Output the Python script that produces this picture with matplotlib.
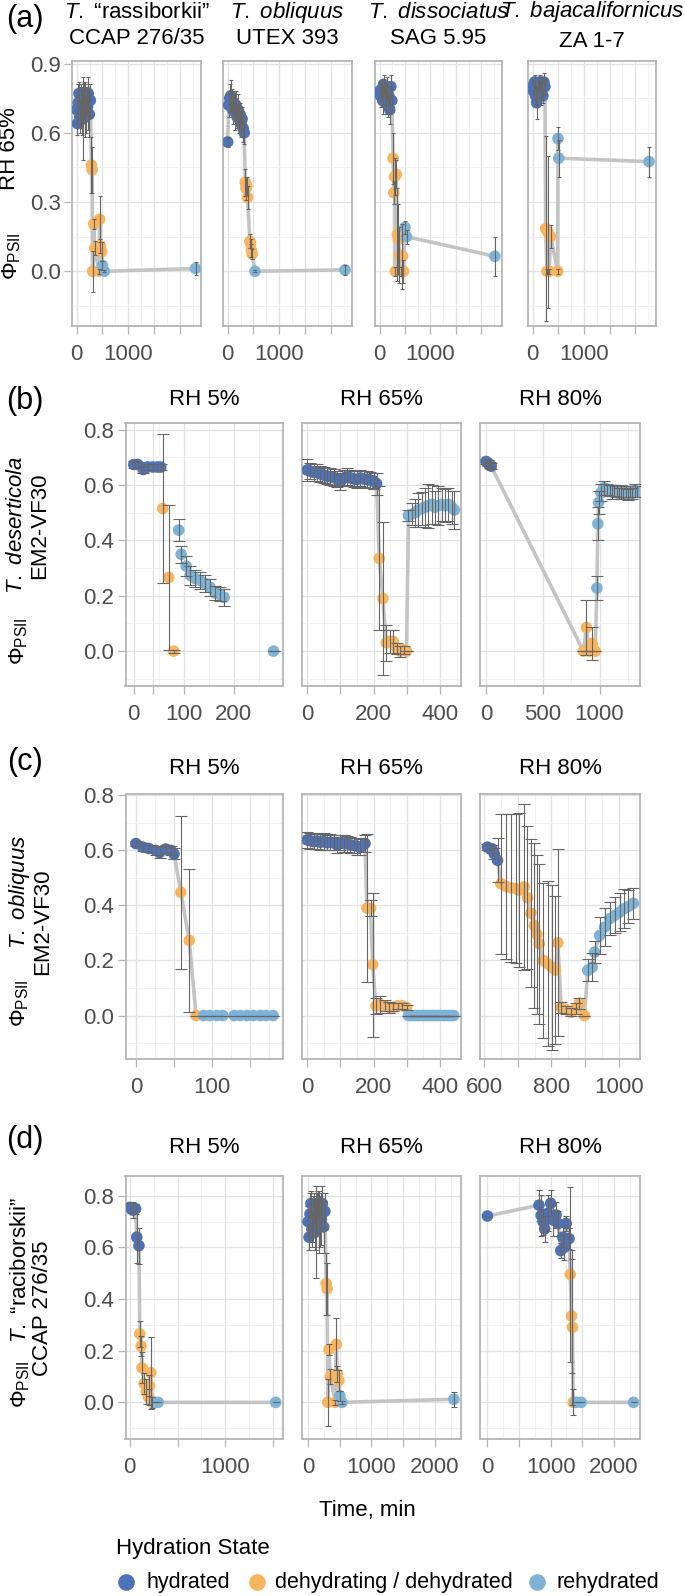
import numpy as np
import matplotlib
matplotlib.use("Agg")
import matplotlib.pyplot as plt
from matplotlib.lines import Line2D

plt.rcParams['font.family'] = ['Liberation Sans', 'DejaVu Sans']
plt.rcParams['mathtext.fontset'] = 'custom'
plt.rcParams['mathtext.rm'] = 'Liberation Sans'
plt.rcParams['mathtext.it'] = 'Liberation Sans:italic'
plt.rcParams['mathtext.bf'] = 'Liberation Sans:bold'

# ---------------------------------------------------------------- data
STATE_CODES = ['h', 'd', 'r']
STATE_LABELS = ['hydrated', 'dehydrating / dehydrated', 'rehydrated']
STATE_COLORS = ['#4E72B8', '#F9B45F', '#7EB3D7']

# (a) / (d) RH 65%: T. "rassiborkii" CCAP 276/35
rasi65_t = [0, 15, 30, 45, 60, 75, 90, 105, 120, 135, 150, 165, 180, 195, 210, 225, 245, 265,
            285, 300, 310, 330, 350, 430, 445, 460, 485,
            500, 535, 2300]
rasi65_v = [0.70, 0.64, 0.73, 0.77, 0.67, 0.71, 0.75, 0.69, 0.66, 0.73, 0.77, 0.70, 0.68, 0.74, 0.71, 0.77, 0.68, 0.74,
            0.46, 0.44, 0.0, 0.205, 0.10, 0.0, 0.225, 0.11, 0.085,
            0.025, 0.0, 0.012]
rasi65_sd = [0.06, 0.05, 0.08, 0.05, 0.07, 0.09, 0.06, 0.10, 0.18, 0.08, 0.05, 0.12, 0.08, 0.06, 0.10, 0.07, 0.10, 0.07,
             0.12, 0.10, 0.09, 0.02, 0.03, 0.01, 0.10, 0.03, 0.04,
             0.02, 0.005, 0.03]
rasi65_s = ['h'] * 18 + ['d'] * 9 + ['r'] * 3

# (a) T. obliquus UTEX 393
oblu_t = [0, 20, 40, 60, 80, 100, 120, 140, 160, 180, 200, 220, 240, 260, 280, 300, 320,
          340, 355, 370, 385, 430, 445, 460, 475,
          530, 2270]
oblu_v = [0.56, 0.72, 0.75, 0.76, 0.74, 0.70, 0.73, 0.69, 0.72, 0.67, 0.70, 0.66, 0.68, 0.64, 0.66, 0.62, 0.60,
          0.385, 0.36, 0.37, 0.32, 0.13, 0.12, 0.09, 0.075,
          0.0, 0.006]
oblu_sd = [0.02, 0.05, 0.06, 0.07, 0.05, 0.06, 0.05, 0.08, 0.06, 0.05, 0.07, 0.06, 0.05, 0.06, 0.05, 0.06, 0.05,
           0.06, 0.05, 0.04, 0.05, 0.03, 0.02, 0.03, 0.02,
           0.005, 0.02]
oblu_s = ['h'] * 17 + ['d'] * 8 + ['r'] * 2

# (a) T. dissociatus SAG 5.95
diss_t = [0, 20, 40, 60, 80, 100, 120, 140, 160, 180, 200, 220, 240,
          265, 280, 295, 310, 330, 350, 370, 390, 420, 450, 470,
          500, 530, 2265]
diss_v = [0.78, 0.76, 0.79, 0.74, 0.81, 0.77, 0.75, 0.79, 0.72, 0.76, 0.70, 0.80, 0.74,
          0.49, 0.34, 0.41, 0.0, 0.42, 0.16, 0.14, 0.07, 0.0, 0.065, 0.0,
          0.19, 0.15, 0.065]
diss_sd = [0.04, 0.05, 0.04, 0.06, 0.04, 0.05, 0.07, 0.05, 0.05, 0.04, 0.06, 0.05, 0.05,
           0.11, 0.05, 0.08, 0.02, 0.06, 0.20, 0.15, 0.12, 0.02, 0.14, 0.05,
           0.03, 0.03, 0.085]
diss_s = ['h'] * 13 + ['d'] * 11 + ['r'] * 3

# (a) T. bajacalifornicus ZA 1-7
baja_t = [0, 20, 40, 60, 80, 100, 120, 140, 160, 180, 200, 220, 240,
          255, 280, 300, 325, 350, 490,
          495, 510, 2270]
baja_v = [0.80, 0.78, 0.82, 0.76, 0.73, 0.81, 0.79, 0.82, 0.77, 0.80, 0.76, 0.82, 0.80,
          0.185, 0.0, 0.17, 0.0, 0.15, 0.0,
          0.575, 0.49, 0.475]
baja_sd = [0.03, 0.04, 0.03, 0.04, 0.07, 0.03, 0.04, 0.03, 0.05, 0.04, 0.03, 0.04, 0.03,
           0.40, 0.01, 0.33, 0.01, 0.05, 0.01,
           0.05, 0.08, 0.065]
baja_s = ['h'] * 13 + ['d'] * 6 + ['r'] * 3

# (b) T. deserticola EM2-VF30
des5_t = [0, 8, 19, 28, 38, 47, 54,
          58, 70, 80,
          90, 95, 105, 113, 123, 133, 143, 153, 163, 172, 181, 280]
des5_v = [0.674, 0.674, 0.656, 0.665, 0.665, 0.665, 0.665,
          0.515, 0.266, 0.0,
          0.437, 0.35, 0.307, 0.274, 0.262, 0.256, 0.244, 0.23, 0.21, 0.205, 0.194, 0.0]
des5_sd = [0.012, 0.01, 0.012, 0.01, 0.01, 0.01, 0.01,
           0.268, 0.261, 0.005,
           0.04, 0.03, 0.037, 0.035, 0.03, 0.03, 0.03, 0.03, 0.025, 0.025, 0.03, 0.0]
des5_s = ['h'] * 7 + ['d'] * 3 + ['r'] * 12

des65_t = [0, 10, 20, 30, 40, 50, 60, 70, 80, 90, 100, 110, 120, 130, 140, 150, 160, 170, 180, 190, 200, 209,
           217, 228, 238, 249, 259, 270, 280, 291, 299,
           305, 315, 325, 335, 345, 355, 365, 375, 385, 395, 405, 415, 425, 435, 443]
des65_v = [0.654, 0.65, 0.646, 0.645, 0.64, 0.636, 0.632, 0.63, 0.627, 0.622, 0.612, 0.625, 0.63, 0.626, 0.622,
           0.62, 0.625, 0.622, 0.62, 0.618, 0.615, 0.605,
           0.335, 0.19, 0.03, 0.035, 0.035, 0.01, 0.0, 0.005, 0.0,
           0.49, 0.495, 0.50, 0.51, 0.515, 0.52, 0.525, 0.53, 0.52, 0.525, 0.53, 0.525, 0.53, 0.52, 0.51]
des65_sd = [0.04, 0.03, 0.03, 0.03, 0.03, 0.03, 0.03, 0.03, 0.03, 0.03, 0.03, 0.03, 0.03, 0.03, 0.03,
            0.03, 0.03, 0.03, 0.03, 0.03, 0.03, 0.04,
            0.26, 0.277, 0.065, 0.04, 0.04, 0.02, 0.02, 0.015, 0.0,
            0.02, 0.04, 0.05, 0.06, 0.06, 0.07, 0.08, 0.07, 0.06, 0.07, 0.06, 0.06, 0.06, 0.06, 0.07]
des65_s = ['h'] * 22 + ['d'] * 9 + ['r'] * 15

des80_t = [0, 15, 30, 45,
           858, 885, 908, 935, 962,
           977, 985, 992, 1012, 1038, 1065, 1090, 1110, 1130, 1150, 1170, 1190, 1210, 1230, 1250, 1270,
           1290, 1310, 1330]
des80_v = [0.685, 0.68, 0.672, 0.668,
           0.0, 0.085, 0.0, 0.028, 0.0,
           0.228, 0.46, 0.537, 0.572, 0.59, 0.585, 0.58, 0.575, 0.58, 0.575, 0.57, 0.575, 0.57, 0.575,
           0.565, 0.575, 0.57, 0.58, 0.575]
des80_sd = [0.01, 0.01, 0.01, 0.01,
            0.0, 0.10, 0.0, 0.06, 0.0,
            0.045, 0.06, 0.04, 0.03, 0.025, 0.02, 0.02, 0.025, 0.02, 0.02, 0.02, 0.025, 0.02, 0.02,
            0.02, 0.02, 0.02, 0.025, 0.02]
des80_s = ['h'] * 4 + ['d'] * 5 + ['r'] * 19

# (c) T. obliquus EM2-VF30
ob5_t = [0, 9, 17, 26, 31, 39, 46, 50,
         59, 70, 79,
         89, 97, 106, 114, 129, 137, 146, 154, 163, 171, 180]
ob5_v = [0.625, 0.612, 0.607, 0.60, 0.592, 0.605, 0.60, 0.587,
         0.448, 0.273, 0.0,
         0, 0, 0, 0, 0, 0, 0, 0, 0, 0, 0]
ob5_sd = [0.01, 0.015, 0.012, 0.015, 0.02, 0.015, 0.015, 0.02,
          0.278, 0.26, 0.0,
          0, 0, 0, 0, 0, 0, 0, 0, 0, 0, 0]
ob5_s = ['h'] * 8 + ['d'] * 3 + ['r'] * 11

ob65_t = [0, 10, 20, 30, 40, 50, 60, 70, 80, 90, 100, 110, 120, 130, 140, 150, 160, 174,
          180, 191, 197, 207, 220, 233, 246, 259, 272, 286, 299,
          305, 313, 321, 329, 337, 345, 353, 361, 369, 377, 385, 393, 401, 409, 417, 425, 433, 441]
ob65_v = [0.638, 0.635, 0.632, 0.634, 0.63, 0.632, 0.628, 0.63, 0.628, 0.62, 0.628, 0.625, 0.624, 0.62,
          0.618, 0.615, 0.612, 0.625,
          0.39, 0.39, 0.185, 0.035, 0.04, 0.035, 0.03, 0.03, 0.035, 0.035, 0.03,
          0, 0, 0, 0, 0, 0, 0, 0, 0, 0, 0, 0, 0, 0, 0, 0, 0, 0]
ob65_sd = [0.028, 0.03, 0.028, 0.03, 0.028, 0.03, 0.028, 0.03, 0.028, 0.03, 0.028, 0.03, 0.028, 0.03,
           0.028, 0.03, 0.028, 0.03,
           0.27, 0.03, 0.262, 0.03, 0.03, 0.02, 0.02, 0.015, 0.012, 0.012, 0.01,
           0, 0, 0, 0, 0, 0, 0, 0, 0, 0, 0, 0, 0, 0, 0, 0, 0, 0]
ob65_s = ['h'] * 18 + ['d'] * 11 + ['r'] * 18

ob80_t = [610, 623, 630, 640,
          650, 665, 680, 694, 704, 719, 729, 739, 749, 757, 764, 776, 789, 802, 812, 819, 829, 844, 859, 872,
          883, 898,
          908, 921, 928, 943, 958, 973, 988, 1003, 1015, 1028, 1043]
ob80_v = [0.612, 0.606, 0.588, 0.564,
          0.479, 0.469, 0.464, 0.461, 0.455, 0.467, 0.428, 0.372, 0.327, 0.295, 0.261, 0.20, 0.188, 0.175,
          0.165, 0.264, 0.03, 0.021, 0.012, 0.024, 0.045, 0.0,
          0.164, 0.176, 0.23, 0.291, 0.321, 0.352, 0.364, 0.376, 0.388, 0.396, 0.408]
ob80_sd = [0.01, 0.015, 0.02, 0.08,
           0.254, 0.264, 0.27, 0.27, 0.28, 0.30, 0.26, 0.27, 0.30, 0.29, 0.29, 0.28, 0.30, 0.30,
           0.27, 0.34, 0.02, 0.015, 0.015, 0.02, 0.02, 0.0,
           0.04, 0.05, 0.04, 0.067, 0.07, 0.06, 0.065, 0.07, 0.07, 0.06, 0.056]
ob80_s = ['h'] * 4 + ['d'] * 22 + ['r'] * 11

# (d) T. "raciborskii" CCAP 276/35
rasi5_t = [0, 30, 60, 73, 96,
           105, 119, 128, 151, 174, 197, 206, 220, 234,
           266, 298, 1528]
rasi5_v = [0.755, 0.745, 0.75, 0.64, 0.607,
           0.265, 0.218, 0.134, 0.072, 0.042, 0.02, 0.065, 0.115, 0.0,
           0.0, 0.0, 0.0]
rasi5_sd = [0.02, 0.03, 0.02, 0.10, 0.07,
            0.05, 0.04, 0.06, 0.04, 0.05, 0.03, 0.04, 0.14, 0.02,
            0.0, 0.0, 0.0]
rasi5_s = ['h'] * 5 + ['d'] * 9 + ['r'] * 3

rasi80_t = [0, 815, 850, 880, 905, 950, 1000, 1040, 1085, 1120, 1160, 1190, 1215, 1245, 1290,
            1310, 1330, 1345, 1355,
            1400, 1483, 2310]
rasi80_v = [0.722, 0.764, 0.724, 0.70, 0.672, 0.732, 0.771, 0.706, 0.726, 0.693, 0.588, 0.64, 0.601, 0.693, 0.634,
            0.496, 0.335, 0.291, 0.0,
            0.0, 0.0, 0.0]
rasi80_sd = [0.0, 0.06, 0.08, 0.05, 0.05, 0.07, 0.05, 0.06, 0.05, 0.05, 0.03, 0.04, 0.05, 0.03, 0.04,
             0.34, 0.22, 0.30, 0.05,
             0.0, 0.0, 0.0]
rasi80_s = ['h'] * 15 + ['d'] * 4 + ['r'] * 3

# ---------------------------------------------------------------- figure
W, H = 685, 1596
fig = plt.figure(figsize=(W / 100, H / 100), dpi=100)
fig.patch.set_facecolor('white')

LINE_COLOR = '#C4C4C4'
ERR_COLOR = '#666666'
BORDER = '#B5B5B5'
TICKLAB = '#4D4D4D'
FS = 16


def fx(x):
    return x / W


def fy(y):
    return 1 - y / H


def add_ax(x0, x1, ytop, ybot):
    return fig.add_axes([fx(x0), fy(ybot), (x1 - x0) / W, (ybot - ytop) / H])


def draw_panel(ax, t, v, sd, s, capsize, connect=True):
    t = np.asarray(t, float)
    v = np.asarray(v, float)
    sd = np.asarray(sd, float)
    s = np.asarray(s)
    if connect:
        order = np.argsort(t, kind='stable')
        ax.plot(t[order], v[order], color=LINE_COLOR, lw=2.6, zorder=2,
                solid_joinstyle='round', solid_capstyle='round')
    for code, col in zip(STATE_CODES, STATE_COLORS):
        m = s == code
        ax.scatter(t[m], v[m], s=70, color=col, edgecolors='none', zorder=3)
    ax.errorbar(t, v, yerr=sd, fmt='none', ecolor=ERR_COLOR, elinewidth=0.8,
                capsize=capsize, capthick=0.8, zorder=4)


def style_ax(ax, xlim, xmaj, xlab, xmin, ylim, ymaj, ymin, ylab_fmt, show_y):
    ax.set_xlim(xlim)
    ax.set_ylim(ylim)
    ax.set_xticks(xmaj)
    ax.set_xticklabels(xlab)
    ax.set_xticks(xmin, minor=True)
    ax.set_yticks(ymaj)
    ax.set_yticklabels([ylab_fmt.format(y) for y in ymaj])
    ax.set_yticks(ymin, minor=True)
    ax.set_axisbelow(True)
    ax.grid(which='major', color='#E2E2E2', lw=0.9)
    ax.grid(which='minor', color='#EEEEEE', lw=0.55)
    for sp in ax.spines.values():
        sp.set_color(BORDER)
        sp.set_linewidth(1.3)
    ax.tick_params(which='major', length=6, width=0.9, color=BORDER,
                   labelsize=FS, labelcolor=TICKLAB)
    ax.tick_params(axis='y', which='major', pad=2)
    ax.tick_params(axis='x', which='major', pad=7)
    ax.tick_params(which='minor', length=0)
    if not show_y:
        ax.tick_params(axis='y', which='both', left=False, labelleft=False)


# ---- layout (pixels)
A_X = [(72, 201), (223, 352), (375, 502), (528, 656)]
A_Y = (61, 326)
B_X = [(125.5, 283), (301.5, 461), (480, 640)]
B_Y = (423, 686)
C_Y = (794, 1059)
D_Y = (1176, 1439)

# ---- row (a)
A_XLIM = (-90, 2406)
A_XMAJ = [0, 500, 1000, 1500, 2000]
A_XLAB = ['0', '', '1000', '', '']
A_XMIN = [250, 750, 1250, 1750, 2250]
A_YLIM = (-0.237, 0.911)
A_YMAJ = [0.0, 0.3, 0.6, 0.9]
A_YMIN = [-0.15, 0.15, 0.45, 0.75]

a_data = [(rasi65_t, rasi65_v, rasi65_sd, rasi65_s),
          (oblu_t, oblu_v, oblu_sd, oblu_s),
          (diss_t, diss_v, diss_sd, diss_s),
          (baja_t, baja_v, baja_sd, baja_s)]
a_title1 = [r'$\mathit{T.}$ “rassiborkii”', r'$\mathit{T.\ obliquus}$',
            r'$\mathit{T.\ dissociatus}$', r'$\mathit{T.\ bajacalifornicus}$']
a_title2 = ['CCAP 276/35', 'UTEX 393', 'SAG 5.95', 'ZA 1-7']
a_b1 = [18, 18, 18, 17.5]
a_b2 = [44.5, 44.5, 44.5, 47]

for i, (xr, d) in enumerate(zip(A_X, a_data)):
    ax = add_ax(xr[0], xr[1], A_Y[0], A_Y[1])
    draw_panel(ax, *d, capsize=1.2)
    style_ax(ax, A_XLIM, A_XMAJ, A_XLAB, A_XMIN, A_YLIM, A_YMAJ, A_YMIN, '{:.1f}', i == 0)
    cx = (xr[0] + xr[1]) / 2
    fig.text(fx(cx), fy(a_b1[i]), a_title1[i], ha='center', va='baseline', fontsize=FS)
    fig.text(fx(cx), fy(a_b2[i]), a_title2[i], ha='center', va='baseline', fontsize=FS)

# ---- rows (b), (c), (d)
Y_MAJ = [0.0, 0.2, 0.4, 0.6, 0.8]
Y_MIN = [-0.1, 0.1, 0.3, 0.5, 0.7]
RH_TITLES = ['RH 5%', 'RH 65%', 'RH 80%']

rows = [
    dict(y=B_Y, ylim=(-0.126, 0.824), tb=405, cap=4.0, connect=[False, True, True],
         data=[(des5_t, des5_v, des5_sd, des5_s),
               (des65_t, des65_v, des65_sd, des65_s),
               (des80_t, des80_v, des80_sd, des80_s)],
         xcfg=[((-16.6, 299), [0, 38, 100, 200], ['0', '', '100', '200'], [50, 150, 250]),
               ((-17, 463), [0, 100, 200, 300, 400], ['0', '', '200', '', '400'], [50, 150, 250, 350, 450]),
               ((-54, 1357), [0, 500, 1000], ['0', '500', '1000'], [250, 750, 1250])]),
    dict(y=C_Y, ylim=(-0.158, 0.805), tb=774, cap=4.0, connect=[True, True, True],
         data=[(ob5_t, ob5_v, ob5_sd, ob5_s),
               (ob65_t, ob65_v, ob65_sd, ob65_s),
               (ob80_t, ob80_v, ob80_sd, ob80_s)],
         xcfg=[((-13.6, 193), [0, 50, 100, 150], ['0', '', '100', ''], [25, 75, 125, 175]),
               ((-17, 463), [0, 100, 200, 300, 400], ['0', '', '200', '', '400'], [50, 150, 250, 350, 450]),
               ((588, 1063), [600, 700, 800, 900, 1000], ['600', '', '800', '', '1000'],
                [650, 750, 850, 950, 1050])]),
    dict(y=D_Y, ylim=(-0.142, 0.877), tb=1153, cap=2.5, connect=[True, True, True],
         data=[(rasi5_t, rasi5_v, rasi5_sd, rasi5_s),
               (rasi65_t, rasi65_v, rasi65_sd, rasi65_s),
               (rasi80_t, rasi80_v, rasi80_sd, rasi80_s)],
         xcfg=[((-45, 1605), [0, 500, 1000, 1500], ['0', '', '1000', ''], [250, 750, 1250]),
               ((-104, 2412), [0, 500, 1000, 1500, 2000], ['0', '', '1000', '', '2000'],
                [250, 750, 1250, 1750, 2250]),
               ((-117, 2412), [0, 500, 1000, 1500, 2000], ['0', '', '1000', '', '2000'],
                [250, 750, 1250, 1750, 2250])]),
]

for row in rows:
    for j, (xr, d, xc) in enumerate(zip(B_X, row['data'], row['xcfg'])):
        ax = add_ax(xr[0], xr[1], row['y'][0], row['y'][1])
        draw_panel(ax, *d, capsize=row['cap'], connect=row['connect'][j])
        style_ax(ax, xc[0], xc[1], xc[2], xc[3], row['ylim'], Y_MAJ, Y_MIN, '{:.1f}', j == 0)
        cx = (xr[0] + xr[1]) / 2
        fig.text(fx(cx), fy(row['tb']), RH_TITLES[j], ha='center', va='baseline', fontsize=FS)

# ---- panel letters
for lab, yc in [('(a)', 18.5), ('(b)', 401), ('(c)', 762), ('(d)', 1140)]:
    fig.text(fx(25), fy(yc), lab, ha='center', va='center', fontsize=22)

# ---- y-axis labels
PHI = r'$\Phi_{\mathrm{PSII}}$'
ylabels = [
    (PHI, 12, 256), ('RH 65%', 10, 149),
    (PHI, 19, 641), (r'$\mathit{T.\ deserticola}$', 17, 525), ('EM2-VF30', 40, 526),
    (PHI, 20, 1003), (r'$\mathit{T.\ obliquus}$', 20, 892), ('EM2-VF30', 43, 922),
    (PHI, 21, 1384), (r'$\mathit{T.}$ “raciborskii”', 20.5, 1270), ('CCAP 276/35', 43, 1308),
]
for txt, x, y in ylabels:
    fig.text(fx(x), fy(y), txt, rotation=90, ha='center', va='center', fontsize=FS)

# ---- x-axis title
fig.text(fx(367), fy(1516), 'Time, min', ha='center', va='baseline', fontsize=FS)

# ---- legend
fig.text(fx(116), fy(1554), 'Hydration State', ha='left', va='baseline', fontsize=FS)
leg_marker_x = [125.5, 256.5, 537]
leg_text_x = [146, 275, 557]
for lab, col, mx, tx in zip(STATE_LABELS, STATE_COLORS, leg_marker_x, leg_text_x):
    fig.add_artist(Line2D([fx(mx)], [fy(1582)], transform=fig.transFigure, marker='o',
                          markersize=12, color=col, markeredgewidth=0, linestyle='none'))
    fig.text(fx(tx), fy(1588), lab, ha='left', va='baseline', fontsize=15.5)

fig.savefig('out.png', dpi=100, facecolor='white')
